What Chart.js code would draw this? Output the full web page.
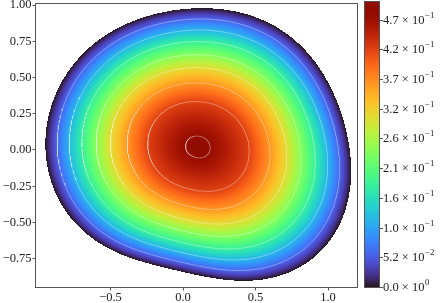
<!DOCTYPE html>
<html>
<head>
<meta charset="utf-8">
<script src="https://cdn.jsdelivr.net/npm/chart.js@4.4.1/dist/chart.umd.min.js"></script>
<style>
  html, body { margin: 0; padding: 0; background: #fff; }
  canvas { display: block; }
</style>
</head>
<body>
<canvas id="c" width="442" height="303"></canvas>
<script>
// Axis ticks
const xTicks = [-0.5, 0.0, 0.5, 1.0];
const yTicks = [-0.75, -0.5, -0.25, 0.0, 0.25, 0.5, 0.75, 1.0];

// Colorbar ticks (mantissa / exponent as printed)
const cbTicks = [0, 0.0525, 0.105, 0.1575, 0.21, 0.2625, 0.315, 0.3675, 0.42, 0.4725];
const cbMant = ["0.0", "5.2", "1.0", "1.6", "2.1", "2.6", "3.2", "3.7", "4.2", "4.7"];
const cbExp = ["0", "−2", "−1", "−1", "−1", "−1", "−1", "−1", "−1", "−1"];
const cbMax = 0.50;

// Field: peak position / value, outer boundary (value 0)
const peak = [0.101, 0.020];
const peakValue = 0.50;
const boundaryX = [0.113, 0.595, 0.825, 0.986, 1.101, 1.147, 1.147, 1.101, 1.009, 0.825, 0.595, 0.320,
                   0.021, -0.255, -0.554, -0.784, -0.899, -0.950, -0.922, -0.830, -0.669, -0.439, -0.163];
const boundaryY = [0.972, 0.876, 0.715, 0.485, 0.232, -0.021, -0.274, -0.481, -0.641, -0.802, -0.871, -0.894,
                   -0.860, -0.779, -0.641, -0.457, -0.274, -0.044, 0.232, 0.462, 0.692, 0.853, 0.945];

// Contour levels and where they sit (fraction of the way from peak to boundary)
const levels = [0.48, 0.42, 0.36, 0.30, 0.24, 0.18, 0.12, 0.06];
const levelRho = [0.080, 0.330, 0.465, 0.575, 0.668, 0.762, 0.844, 0.923];

const FONT = "'Liberation Serif', 'Times New Roman', serif";

function turbo(t) {
    t = Math.max(0, Math.min(1, t));
    const r = 0.13572138 + t * (4.61539260 + t * (-42.66032258 + t * (132.13108234 + t * (-152.94239396 + t * 59.28637943))));
    const g = 0.09140261 + t * (2.19418839 + t * (4.84296658 + t * (-14.18503333 + t * (4.27729857 + t * 2.82956604))));
    const b = 0.10667330 + t * (12.64194608 + t * (-60.58204836 + t * (110.36276771 + t * (-89.90310912 + t * 27.34824973))));
    const c = v => Math.round(255 * Math.max(0, Math.min(1, v)));
    return [c(r), c(g), c(b)];
}

// Smooth boundary radius (seen from the peak): least-squares Fourier fit to the boundary points
const NH = 4;
const radiusCoef = (function () {
    const n = 2 * NH + 1;
    const A = Array.from({ length: n }, () => new Array(n + 1).fill(0));
    const basis = a => {
        const b = [1];
        for (let k = 1; k <= NH; k++) { b.push(Math.cos(k * a)); b.push(Math.sin(k * a)); }
        return b;
    };
    boundaryX.forEach((bx, i) => {
        const dx = bx - peak[0], dy = boundaryY[i] - peak[1];
        const b = basis(Math.atan2(dy, dx)), r = Math.hypot(dx, dy);
        for (let p = 0; p < n; p++) {
            for (let q = 0; q < n; q++) A[p][q] += b[p] * b[q];
            A[p][n] += b[p] * r;
        }
    });
    for (let p = 0; p < n; p++) {
        let m = p;
        for (let q = p + 1; q < n; q++) if (Math.abs(A[q][p]) > Math.abs(A[m][p])) m = q;
        [A[p], A[m]] = [A[m], A[p]];
        for (let q = 0; q < n; q++) {
            if (q === p) continue;
            const f = A[q][p] / A[p][p];
            for (let k = p; k <= n; k++) A[q][k] -= f * A[p][k];
        }
    }
    return A.map((row, p) => row[n] / row[p]);
})();

// nh = number of harmonics used (inner contours are rounder than the edge)
function radiusAt(a, nh) {
    let r = radiusCoef[0];
    for (let k = 1; k <= nh; k++) r += radiusCoef[2 * k - 1] * Math.cos(k * a) + radiusCoef[2 * k] * Math.sin(k * a);
    return r;
}

// normalised radius rho: distance = rho * (Rlow + rho * (Rfull - Rlow))
function rhoAt(dx, dy) {
    const a = Math.atan2(dy, dx), d = Math.hypot(dx, dy);
    const lo = radiusAt(a, 2), diff = radiusAt(a, NH) - lo;
    if (Math.abs(diff) < 1e-9) return d / lo;
    const disc = lo * lo + 4 * diff * d;
    if (disc < 0) return 2;
    return (-lo + Math.sqrt(disc)) / (2 * diff);
}

const profRho = [0].concat(levelRho, [1]);
const profVal = [peakValue].concat(levels, [0]);

function valueAt(x, y) {
    const rho = rhoAt(x - peak[0], y - peak[1]);
    if (rho > 1) return null;
    for (let i = 1; i < profRho.length; i++) {
        if (rho <= profRho[i]) {
            const f = (rho - profRho[i - 1]) / (profRho[i] - profRho[i - 1]);
            return profVal[i - 1] + f * (profVal[i] - profVal[i - 1]);
        }
    }
    return 0;
}

// contour line datasets
const contourSets = levelRho.map(rho => {
    const pts = [];
    for (let d = 0; d <= 360; d += 1) {
        const a = d * Math.PI / 180;
        const lo = radiusAt(a, 2);
        const r = rho * (lo + rho * (radiusAt(a, NH) - lo));
        pts.push({ x: peak[0] + r * Math.cos(a), y: peak[1] + r * Math.sin(a) });
    }
    return {
        data: pts, showLine: true, pointRadius: 0, borderWidth: 0.7,
        borderColor: "rgba(255,255,255,0.5)", tension: 0
    };
});

// Draw the field image under the datasets
const fieldPlugin = {
    id: "field",
    beforeDraw(chart) {
        const ctx = chart.ctx;
        ctx.save();
        ctx.fillStyle = "#fff";
        ctx.fillRect(0, 0, chart.width, chart.height);
        ctx.restore();
    },
    beforeDatasetsDraw(chart) {
        const { ctx, chartArea: ca, scales } = chart;
        const left = Math.round(ca.left), top = Math.round(ca.top);
        const w = Math.round(ca.right) - left, h = Math.round(ca.bottom) - top;
        const off = document.createElement("canvas");
        off.width = w; off.height = h;
        const octx = off.getContext("2d");
        const img = octx.createImageData(w, h);
        for (let j = 0; j < h; j++) {
            const y = scales.y.getValueForPixel(top + j + 0.5);
            for (let i = 0; i < w; i++) {
                const x = scales.x.getValueForPixel(left + i + 0.5);
                const v = valueAt(x, y);
                const p = (j * w + i) * 4;
                if (v === null) {
                    img.data[p] = 255; img.data[p + 1] = 255; img.data[p + 2] = 255;
                } else {
                    const c = turbo(v / cbMax);
                    img.data[p] = c[0]; img.data[p + 1] = c[1]; img.data[p + 2] = c[2];
                }
                img.data[p + 3] = 255;
            }
        }
        octx.putImageData(img, 0, 0);
        ctx.drawImage(off, left, top);
    },
    afterDraw(chart) {
        const { ctx, chartArea: ca, scales } = chart;
        // frame around the plot
        ctx.save();
        ctx.strokeStyle = "#555";
        ctx.lineWidth = 1;
        ctx.strokeRect(Math.round(ca.left) - 0.5, Math.round(ca.top) - 0.5,
            Math.round(ca.right) - Math.round(ca.left) + 1, Math.round(ca.bottom) - Math.round(ca.top) + 1);

        // colorbar
        const cb = scales.cb;
        const bx = Math.round(ca.right) + 8, bw = 14;
        const yTop = Math.round(cb.getPixelForValue(cbMax)) - 2, yBot = Math.round(cb.getPixelForValue(0));
        for (let py = yTop; py < yBot; py++) {
            const c = turbo(cb.getValueForPixel(py + 0.5) / cbMax);
            ctx.fillStyle = `rgb(${c[0]},${c[1]},${c[2]})`;
            ctx.fillRect(bx, py, bw, 1);
        }
        ctx.strokeRect(bx - 0.5, yTop - 0.5, bw + 1, yBot - yTop + 1);

        ctx.fillStyle = "#222";
        ctx.textBaseline = "middle";
        cbTicks.forEach((v, i) => {
            const py = Math.round(cb.getPixelForValue(v)) + 0.5;
            ctx.beginPath();
            ctx.moveTo(bx + bw + 0.5, py);
            ctx.lineTo(bx + bw + 4, py);
            ctx.stroke();
            let tx = bx + bw + 4;
            ctx.font = "12.5px " + FONT;
            const base = cbMant[i] + " × 10";
            ctx.fillText(base, tx, py + 0.5);
            tx += ctx.measureText(base).width + 0.5;
            ctx.font = "8.8px " + FONT;
            ctx.fillText(cbExp[i], tx, py - 4.5);
        });
        ctx.restore();
    }
};

const fmt = (v, d) => (v < 0 ? "−" : "") + Math.abs(v).toFixed(d);
const noPad = s => { s.paddingTop = 0; s.paddingBottom = 0; s.paddingLeft = 0; s.paddingRight = 0; };

new Chart(document.getElementById("c"), {
    type: "scatter",
    data: { datasets: contourSets },
    options: {
        responsive: false,
        animation: false,
        devicePixelRatio: 1,
        events: [],
        layout: { padding: { top: 4, left: 0, right: 0, bottom: 0 } },
        plugins: { legend: { display: false }, tooltip: { enabled: false } },
        scales: {
            x: {
                type: "linear", min: -1.0138, max: 1.2,
                afterBuildTicks: s => { s.ticks = xTicks.map(v => ({ value: v })); },
                afterFit: s => { s.height = 16; noPad(s); },
                border: { display: false },
                grid: { drawOnChartArea: false, tickLength: 3.5, color: "#555" },
                ticks: { font: { family: FONT, size: 12.5 }, color: "#222", padding: 0, maxRotation: 0,
                         callback: v => fmt(v, 1) }
            },
            y: {
                type: "linear", min: -0.945, max: 1.007,
                afterBuildTicks: s => { s.ticks = yTicks.map(v => ({ value: v })); },
                afterFit: s => { s.width = 36; noPad(s); },
                border: { display: false },
                grid: { drawOnChartArea: false, tickLength: 3.5, color: "#555" },
                ticks: { font: { family: FONT, size: 12.5 }, color: "#222", padding: 1,
                         callback: v => fmt(v, 2) }
            },
            cb: {
                type: "linear", position: "right", min: 0, max: cbMax,
                afterFit: s => { s.width = 85; noPad(s); },
                border: { display: false },
                grid: { display: false },
                ticks: { display: false }
            }
        }
    },
    plugins: [fieldPlugin]
});
</script>
</body>
</html>
